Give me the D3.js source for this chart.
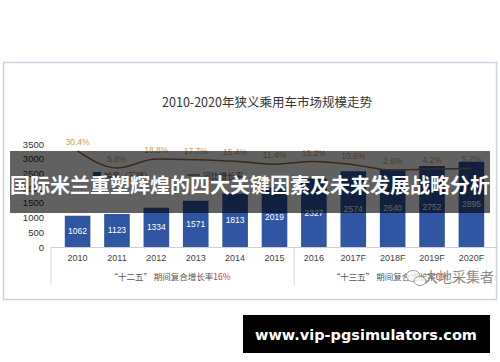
<!DOCTYPE html>
<html>
<head>
<meta charset="utf-8">
<script src="https://cdn.jsdelivr.net/npm/d3@7"></script>
<style>
  body { margin: 0; background: #fff; }
  svg { display: block; }
</style>
</head>
<body>
<svg width="500" height="362"></svg>
<script>
const years = ['2010','2011','2012','2013','2014','2015','2016','2017F','2018F','2019F','2020F']
const sales = [1062,1123,1334,1571,1813,2019,2327,2574,2640,2752,2895]
const growth = [30.4,5.8,18.8,17.7,15.4,11.4,15.2,10.6,2.6,4.2,5.2]
const yTicks = [0,500,1000,1500,2000,2500,3000,3500]

const FONT = "'Liberation Sans', 'Noto Sans CJK SC', sans-serif"
const CJK = "'Noto Sans CJK SC', sans-serif"

const svg = d3.select('svg')

// panel
svg.append('rect')
   .attr('x',3.5).attr('y',62.5).attr('width',493).attr('height',237)
   .attr('fill','#fff').attr('stroke','#c9d5e4').attr('stroke-width',1.5)

svg.append('text')
   .attr('x',267).attr('y',107)
   .attr('text-anchor','middle')
   .attr('font-family',CJK).attr('font-size',12.5).attr('fill','#333')
   .text('2010-2020年狭义乘用车市场规模走势')

const xScale = d3.scaleBand().domain(years).range([51,498]).padding(0.35)
const yScale = d3.scaleLinear().domain([0,3500]).range([247,144])
const gScale = d3.scaleLinear().domain([0,30.4]).range([172,151])

// y axis labels
svg.append('g')
   .selectAll('text')
   .data(yTicks)
   .enter()
   .append('text')
   .attr('x',44)
   .attr('y',d=>yScale(d)+3.5)
   .attr('text-anchor','end')
   .attr('font-family',FONT).attr('font-size',9.5).attr('fill','#333')
   .text(d=>d)

// bars
svg.append('g')
   .selectAll('.bar')
   .data(years)
   .enter()
   .append('rect')
   .classed('bar',true)
   .attr('x',d=>xScale(d))
   .attr('width',xScale.bandwidth())
   .attr('y',(d,i)=>yScale(sales[i]))
   .attr('height',(d,i)=>yScale(0)-yScale(sales[i]))
   .attr('fill','#2f55a3')

svg.append('g')
   .selectAll('text')
   .data(years)
   .enter()
   .append('text')
   .attr('x',d=>xScale(d)+xScale.bandwidth()/2)
   .attr('y',(d,i)=>(yScale(sales[i])+yScale(0))/2+3)
   .attr('text-anchor','middle')
   .attr('font-family',FONT).attr('font-size',8.5).attr('fill','#fff')
   .text((d,i)=>sales[i])

// x axis
svg.append('line')
   .attr('x1',51).attr('x2',498).attr('y1',247.5).attr('y2',247.5)
   .attr('stroke','#d0d0d0')
svg.selectAll('.sep')
   .data([51, (xScale('2015')+xScale('2016')+xScale.bandwidth())/2])
   .enter()
   .append('line')
   .attr('x1',d=>d).attr('x2',d=>d).attr('y1',247).attr('y2',285)
   .attr('stroke','#d8d8d8')

svg.append('g')
   .selectAll('text')
   .data(years)
   .enter()
   .append('text')
   .attr('x',d=>xScale(d)+xScale.bandwidth()/2)
   .attr('y',261)
   .attr('text-anchor','middle')
   .attr('font-family',FONT).attr('font-size',9).attr('fill','#444')
   .text(d=>d)

// growth line
const line = d3.line()
               .x((d,i)=>xScale(years[i])+xScale.bandwidth()/2)
               .y(d=>gScale(d))
               .curve(d3.curveMonotoneX)
svg.append('path')
   .datum(growth)
   .attr('d',line)
   .attr('fill','none').attr('stroke','#9c6f45').attr('stroke-width',1.5)

svg.append('g')
   .selectAll('text')
   .data(growth)
   .enter()
   .append('text')
   .attr('x',(d,i)=>xScale(years[i])+xScale.bandwidth()/2)
   .attr('y',d=>gScale(d)-6)
   .attr('text-anchor','middle')
   .attr('font-family',FONT).attr('font-size',8.5).attr('fill','#cf9a62')
   .text(d=>d.toFixed(1)+'%')

// legend
svg.append('rect').attr('x',93).attr('y',172).attr('width',8).attr('height',6).attr('fill','#2f55a3')
svg.append('text').attr('x',104).attr('y',178.5)
   .attr('font-family',CJK).attr('font-size',8).attr('fill','#555').text('销量（万辆）')
svg.append('line').attr('x1',187).attr('x2',200).attr('y1',175).attr('y2',175)
   .attr('stroke','#9c6f45').attr('stroke-width',1.5)
svg.append('text').attr('x',203).attr('y',178.5)
   .attr('font-family',CJK).attr('font-size',8).attr('fill','#555').text('同比增长率')

// period notes
const note1 = svg.append('text').attr('x',170).attr('y',280).attr('text-anchor','middle')
   .attr('font-family',CJK).attr('font-size',8.5).attr('fill','#555')
note1.append('tspan').text('“十二五” 期间复合增长率')
note1.append('tspan').attr('fill','#d0343a').text('16%')
const note2 = svg.append('text').attr('x',390).attr('y',280).attr('text-anchor','middle')
   .attr('font-family',CJK).attr('font-size',8.5).attr('fill','#555')
note2.append('tspan').text('“十三五” 期间复合增长率')
note2.append('tspan').attr('fill','#d0343a').text('6%')

// watermark
const wm = svg.append('g').attr('fill','none').attr('stroke','#999').attr('stroke-width',1)
wm.append('ellipse').attr('cx',413).attr('cy',276).attr('rx',7).attr('ry',5.5).attr('fill','rgba(255,255,255,0.8)')
wm.append('ellipse').attr('cx',420).attr('cy',281).attr('rx',6).attr('ry',4.5).attr('fill','rgba(255,255,255,0.8)')
svg.append('text').attr('x',424).attr('y',282)
   .attr('font-family',CJK).attr('font-size',14).attr('fill','#8a8a8a').text('大地采集者')

// banner
svg.append('rect').attr('x',10).attr('y',151).attr('width',480).attr('height',62)
   .attr('fill','rgba(0,0,0,0.62)')
svg.append('text').attr('x',250).attr('y',193).attr('text-anchor','middle')
   .attr('font-family',CJK).attr('font-weight','bold').attr('font-size',20).attr('fill','#fff')
   .text('国际米兰重塑辉煌的四大关键因素及未来发展战略分析')

// url box
svg.append('rect').attr('x',243).attr('y',315).attr('width',247).attr('height',38).attr('fill','#000')
svg.append('text').attr('x',366).attr('y',339.5).attr('text-anchor','middle')
   .attr('font-family',"'DejaVu Sans', sans-serif").attr('font-weight','bold').attr('font-size',14.5).attr('fill','#fff')
   .text('www.vip-pgsimulators.com')
</script>
</body>
</html>
